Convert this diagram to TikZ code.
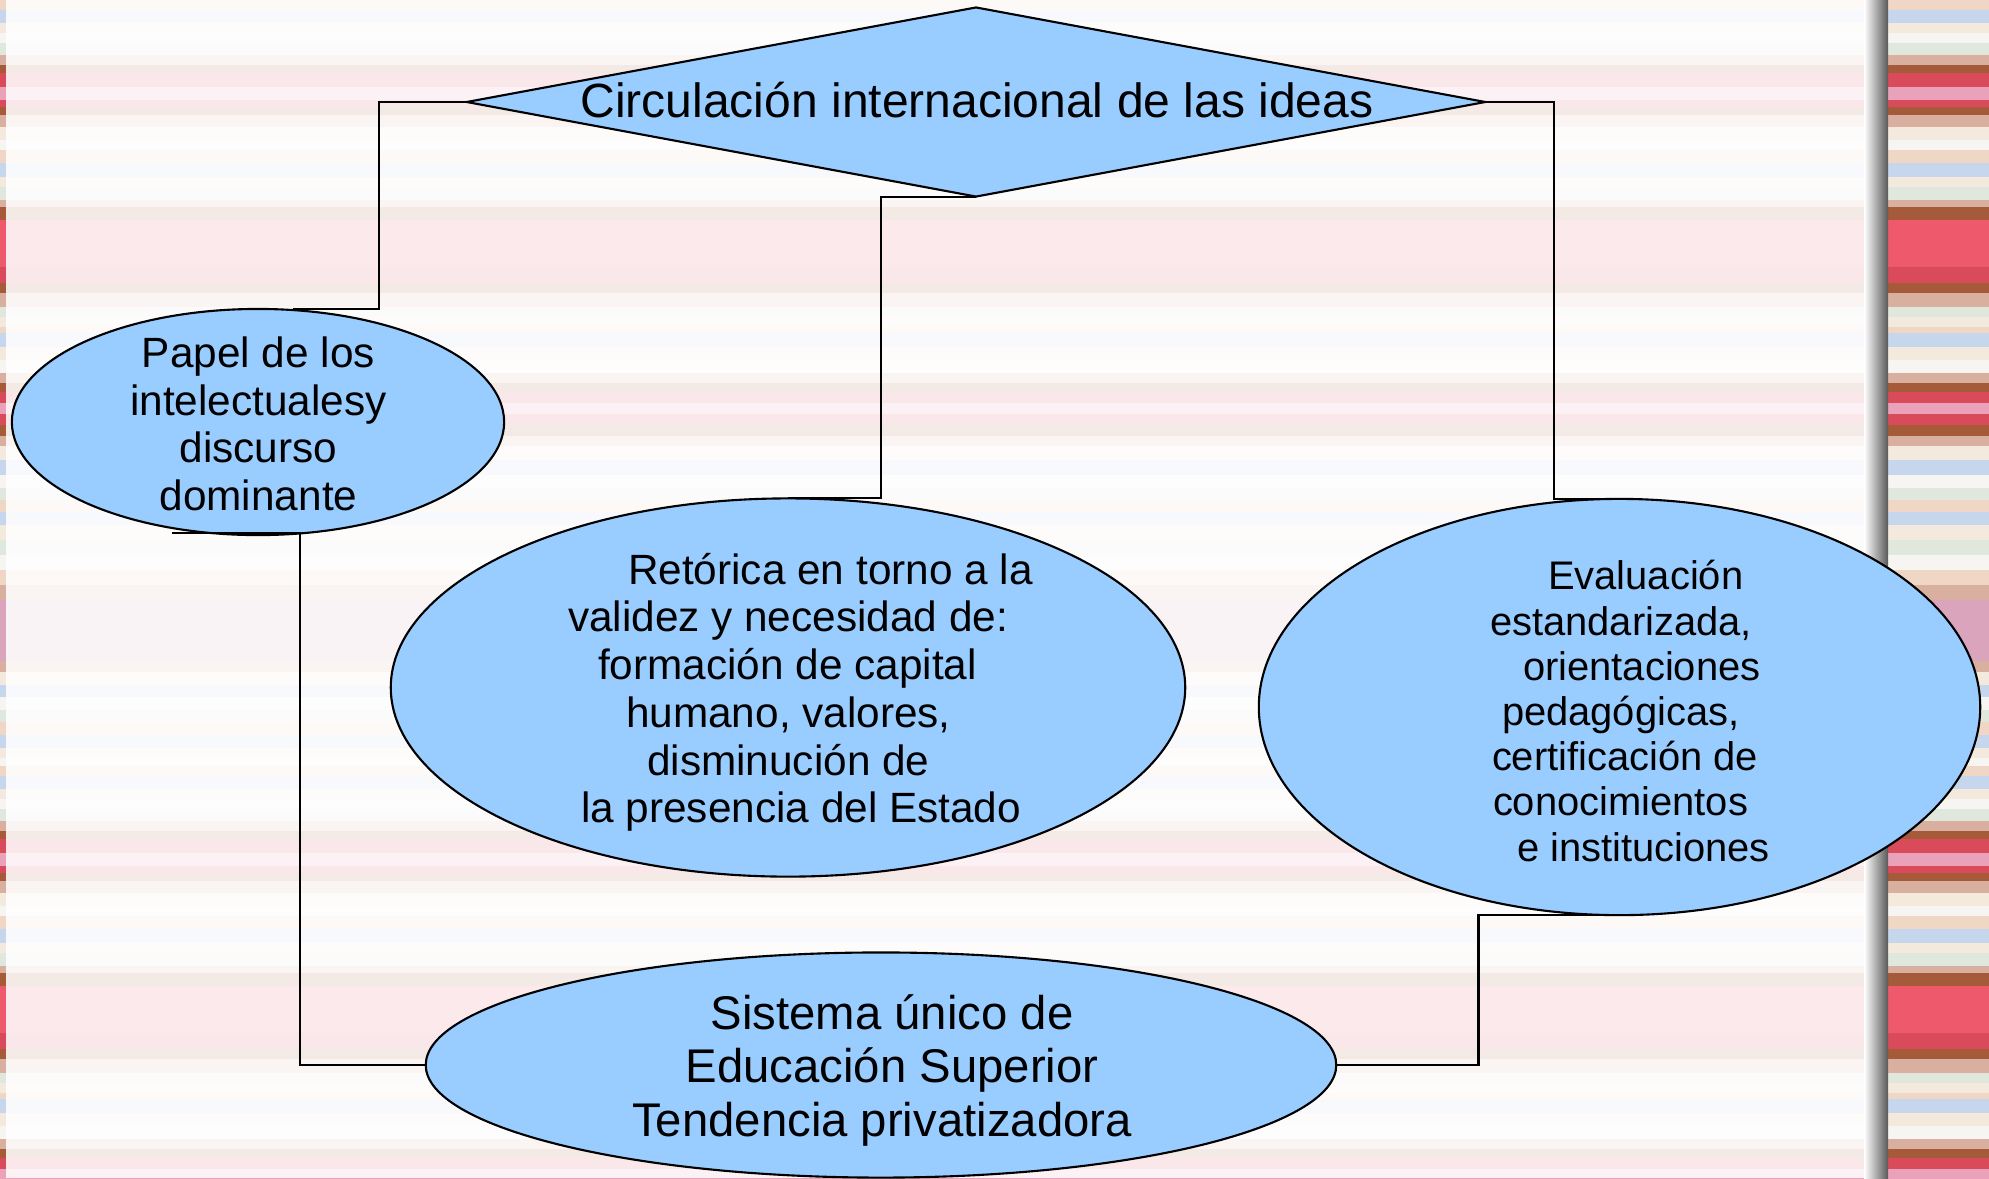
\documentclass[tikz,border=0pt]{standalone}
\usepackage{fontspec}
\setmainfont{Liberation Sans}
\usetikzlibrary{shapes.geometric,calc}
\definecolor{bfill}{HTML}{99CCFF}
\definecolor{sPeach}{HTML}{F0D6C4}
\definecolor{sBlue}{HTML}{C6D6EC}
\definecolor{sCream}{HTML}{F3E9DD}
\definecolor{sWhite}{HTML}{F7F5F2}
\definecolor{sGreen}{HTML}{E0E7DC}
\definecolor{sTan}{HTML}{D9B0A0}
\definecolor{sBrown}{HTML}{A55A3A}
\definecolor{sRed}{HTML}{D94A5A}
\definecolor{sPink}{HTML}{E9A2BA}
\definecolor{sBRed}{HTML}{EE5A6C}
\definecolor{sMauve}{HTML}{D9A4BC}
\begin{document}
\begin{tikzpicture}[x=0.01cm,y=-0.01cm,
  shapebox/.style={draw=black, line width=0.6pt, fill=bfill, inner sep=0pt, outer sep=0pt},
  ellbox/.style={shapebox, ellipse},
  diabox/.style={shapebox, diamond},
  txt/.style={inner sep=0pt, outer sep=0pt, text=black},
  link/.style={draw=black, line width=0.6pt}]
\useasboundingbox (0,0) rectangle (1989,1178);
% background stripes
\begin{scope}
\clip (0,0) rectangle (1989,1178);
\foreach \off in {0,766}{
  \foreach \ya/\yb/\col in {0/10/sPeach, 10/23/sBlue, 23/33/sCream, 33/43/sWhite, 43/55/sGreen, 55/65/sTan, 65/73/sBrown, 73/87/sRed, 87/100/sPink, 100/107/sRed, 107/115/sBrown, 115/127/sTan, 127/140/sCream, 140/150/sWhite, 150/163/sPeach, 163/177/sBlue, 177/187/sCream, 187/200/sGreen, 200/207/sTan, 207/220/sBrown, 220/267/sBRed, 267/283/sRed, 283/293/sBrown, 293/307/sTan, 307/317/sGreen, 317/327/sCream, 327/333/sPeach, 333/347/sBlue, 347/360/sCream, 360/373/sWhite, 373/383/sTan, 383/392/sBrown, 392/403/sRed, 403/414/sPink, 414/425/sRed, 425/436/sBrown, 436/446/sTan, 446/460/sCream, 460/475/sBlue, 475/488/sWhite, 488/500/sGreen, 500/512/sPeach, 512/525/sBlue, 525/540/sCream, 540/555/sGreen, 555/570/sWhite, 570/585/sPeach, 585/600/sTan, 600/661/sMauve, 661/672/sTan, 672/685/sCream, 685/697/sBlue, 697/710/sWhite, 710/722/sGreen, 722/735/sPeach, 735/748/sBlue, 748/758/sCream, 758/766/sWhite}{
    \fill[\col] (0,\ya+\off) rectangle (1989,\yb+\off+0.6);
  }
}
\fill[white, opacity=0.87] (6,0) rectangle (1866,1178);
\shade[left color=white, middle color=black!30, right color=black!65] (1864,0) rectangle (1888,1178);
\end{scope}
% shapes
\node[diabox, minimum width=10.18cm, minimum height=1.89cm] (dia) at (976,102) {};
\node[txt, anchor=base, font=\fontsize{13.66}{16}\selectfont] (diaT) at (977,117) {Circulación internacional de las ideas};
\node[ellbox, minimum width=4.92cm, minimum height=2.26cm] (pap) at (258,422) {};
\node[txt, align=center, font=\fontsize{12.04}{13.5}\selectfont] (papT) at (258.5,429.5) {\strut Papel de los\\intelectualesy\\discurso\\dominante\strut};
\node[ellbox, minimum width=7.94cm, minimum height=3.78cm] (ret) at (788,687.5) {};
\node[txt, align=left, anchor=west, font=\fontsize{12.04}{13.58}\selectfont] (retT) at (568,694) {\strut\hspace*{0.60cm}Retórica en torno a la\\validez y necesidad de:\\\hspace*{0.30cm}formación de capital\\\hspace*{0.58cm}humano, valores,\\\hspace*{0.79cm}disminución de\\\hspace*{0.13cm}la presencia del Estado\strut};
\node[ellbox, minimum width=7.21cm, minimum height=4.16cm] (eva) at (1619.5,707) {};
\node[txt, align=left, anchor=west, font=\fontsize{11.35}{12.85}\selectfont] (evaT) at (1490,716.5) {\strut\hspace*{0.58cm}Evaluación\\estandarizada,\\\hspace*{0.33cm}orientaciones\\\hspace*{0.12cm}pedagógicas,\\\hspace*{0.02cm}certificación de\\\hspace*{0.03cm}conocimientos\\\hspace*{0.27cm}e instituciones\strut};
\node[ellbox, minimum width=9.10cm, minimum height=2.25cm] (sis) at (881,1065) {};
\node[txt, align=center, font=\fontsize{13.45}{15.2}\selectfont] (sisT) at (882,1072) {\strut\hspace*{0.2cm}Sistema único de\\\hspace*{0.2cm}Educación Superior\\Tendencia privatizadora\strut};
% connectors
\draw[link] (dia.west) -- ++(-88,0) |- ($(pap.north)+(35,0)$);
\draw[link] (dia.south) -- ++(-95,0) |- (ret.north);
\draw[link] (dia.east) -- ++(69,0) |- (eva.north);
\draw[link] ($(pap.south)+(-86,-2)$) -- ++(128,0) |- (sis.west);
\draw[link] (eva.south) -- ++(-141,0) |- (sis.east);
\end{tikzpicture}
\end{document}
